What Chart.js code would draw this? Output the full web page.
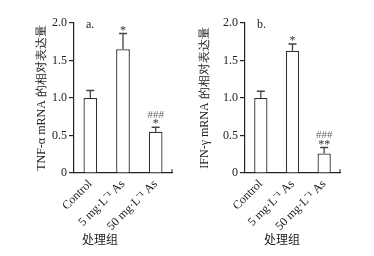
<!DOCTYPE html>
<html>
<head>
<meta charset="utf-8">
<script src="https://cdn.jsdelivr.net/npm/chart.js@4/dist/chart.umd.min.js"></script>
<style>
  html, body { margin: 0; padding: 0; background: #fff; }
  .panel { position: absolute; top: 0; width: 187px; height: 256px; }
  #wrapA { left: 0; }
  #wrapB { left: 187px; }
</style>
</head>
<body>
<div class="panel" id="wrapA"><canvas id="chartA"></canvas></div>
<div class="panel" id="wrapB"><canvas id="chartB"></canvas></div>
<script>
// data
const groups = ['Control', '5 mg·L⁻¹ As', '50 mg·L⁻¹ As'];
const yTicks = [0, 0.5, 1.0, 1.5, 2.0];
const tnfMean = [1.0, 1.65, 0.55];
const tnfErr = [0.10, 0.21, 0.06];
const tnfMarks = [[], ['*'], ['###', '*']];
const ifnMean = [1.0, 1.63, 0.26];
const ifnErr = [0.09, 0.09, 0.08];
const ifnMarks = [[], ['*'], ['###', '**']];

const serif = '"Liberation Serif", "Times New Roman", serif';
const cjk = '"Noto Sans CJK SC", sans-serif';

// error bars + significance marks + panel letter + x title
const extras = {
    id: 'extras',
    afterDatasetsDraw(chart, args, opts) {
        const ctx = chart.ctx;
        const x = chart.scales.x, y = chart.scales.y;
        ctx.save();
        ctx.strokeStyle = '#444';
        ctx.lineWidth = 1.3;
        opts.mean.forEach((m, i) => {
            const cx = x.getPixelForValue(i);
            const yTop = y.getPixelForValue(m);
            const yErr = y.getPixelForValue(m + opts.err[i]);
            ctx.beginPath();
            ctx.moveTo(cx, yTop);
            ctx.lineTo(cx, yErr);
            ctx.moveTo(cx - 4, yErr);
            ctx.lineTo(cx + 4, yErr);
            ctx.stroke();
            // marks, bottom-most first
            const marks = opts.marks[i].slice().reverse();
            let yy = yErr - 3;
            marks.forEach(t => {
                ctx.textAlign = 'center';
                ctx.textBaseline = 'bottom';
                if (t.startsWith('#')) {
                    ctx.fillStyle = '#666';
                    ctx.font = '11px ' + serif;
                    ctx.fillText(t, cx, yy + 2);
                    yy -= 11;
                } else {
                    ctx.fillStyle = '#333';
                    ctx.font = '12px ' + serif;
                    ctx.fillText(t, cx, yy + 6);
                    yy -= 6;
                }
            });
        });
        // panel letter
        ctx.fillStyle = '#222';
        ctx.font = '12px ' + serif;
        ctx.textAlign = 'left';
        ctx.textBaseline = 'middle';
        ctx.fillText(opts.letter, chart.chartArea.left + 12, chart.chartArea.top + 2);
        // small end tick on x axis
        ctx.strokeStyle = '#222';
        ctx.lineWidth = 1;
        ctx.beginPath();
        ctx.moveTo(chart.chartArea.right, chart.chartArea.bottom);
        ctx.lineTo(chart.chartArea.right, chart.chartArea.bottom - 4);
        ctx.stroke();
        // x title
        ctx.fillStyle = '#222';
        ctx.font = '12px ' + cjk;
        ctx.textAlign = 'center';
        ctx.textBaseline = 'middle';
        ctx.fillText('处理组', chart.chartArea.left + opts.titleDx, 239);
        ctx.restore();
    }
};

function makeChart(id, mean, err, marks, letter, yTitle, pad, yWidth, titleDx) {
    return new Chart(document.getElementById(id), {
        type: 'bar',
        data: {
            labels: groups,
            datasets: [{
                data: mean,
                backgroundColor: '#fff',
                borderColor: '#333',
                borderWidth: 1.3,
                barPercentage: 0.42,
                categoryPercentage: 1
            }]
        },
        options: {
            responsive: true,
            maintainAspectRatio: false,
            animation: false,
            layout: { padding: pad },
            plugins: {
                legend: { display: false },
                tooltip: { enabled: false },
                extras: { mean: mean, err: err, marks: marks, letter: letter, titleDx: titleDx }
            },
            scales: {
                x: {
                    grid: { display: false, drawTicks: false },
                    border: { color: '#222', width: 1.2 },
                    ticks: {
                        color: '#222',
                        font: { family: serif, size: 12 },
                        minRotation: 45,
                        maxRotation: 45,
                        padding: 4
                    },
                    afterFit: s => { s.height = 83; }
                },
                y: {
                    min: 0,
                    max: 2,
                    afterBuildTicks: s => { s.ticks = yTicks.map(v => ({ value: v })); },
                    grid: { drawOnChartArea: false, tickLength: 5, color: '#222', lineWidth: 1.2 },
                    border: { color: '#222', width: 1.2 },
                    ticks: {
                        color: '#222',
                        font: { family: serif, size: 12 },
                        padding: 2,
                        callback: v => v === 0 ? '0' : v.toFixed(1)
                    },
                    title: {
                        display: true,
                        text: yTitle,
                        color: '#222',
                        font: { family: serif, size: 12 },
                        padding: 0
                    },
                    afterFit: s => { s.width = yWidth; }
                }
            }
        },
        plugins: [extras]
    });
}

makeChart('chartA', tnfMean, tnfErr, tnfMarks, 'a.', 'TNF-α mRNA 的相对表达量',
    { left: 35, right: 15, top: 23, bottom: 0 }, 39, 26);
makeChart('chartB', ifnMean, ifnErr, ifnMarks, 'b.', 'IFN-γ mRNA 的相对表达量',
    { left: 11, right: 34, top: 23, bottom: 0 }, 47, 37);
</script>
</body>
</html>
